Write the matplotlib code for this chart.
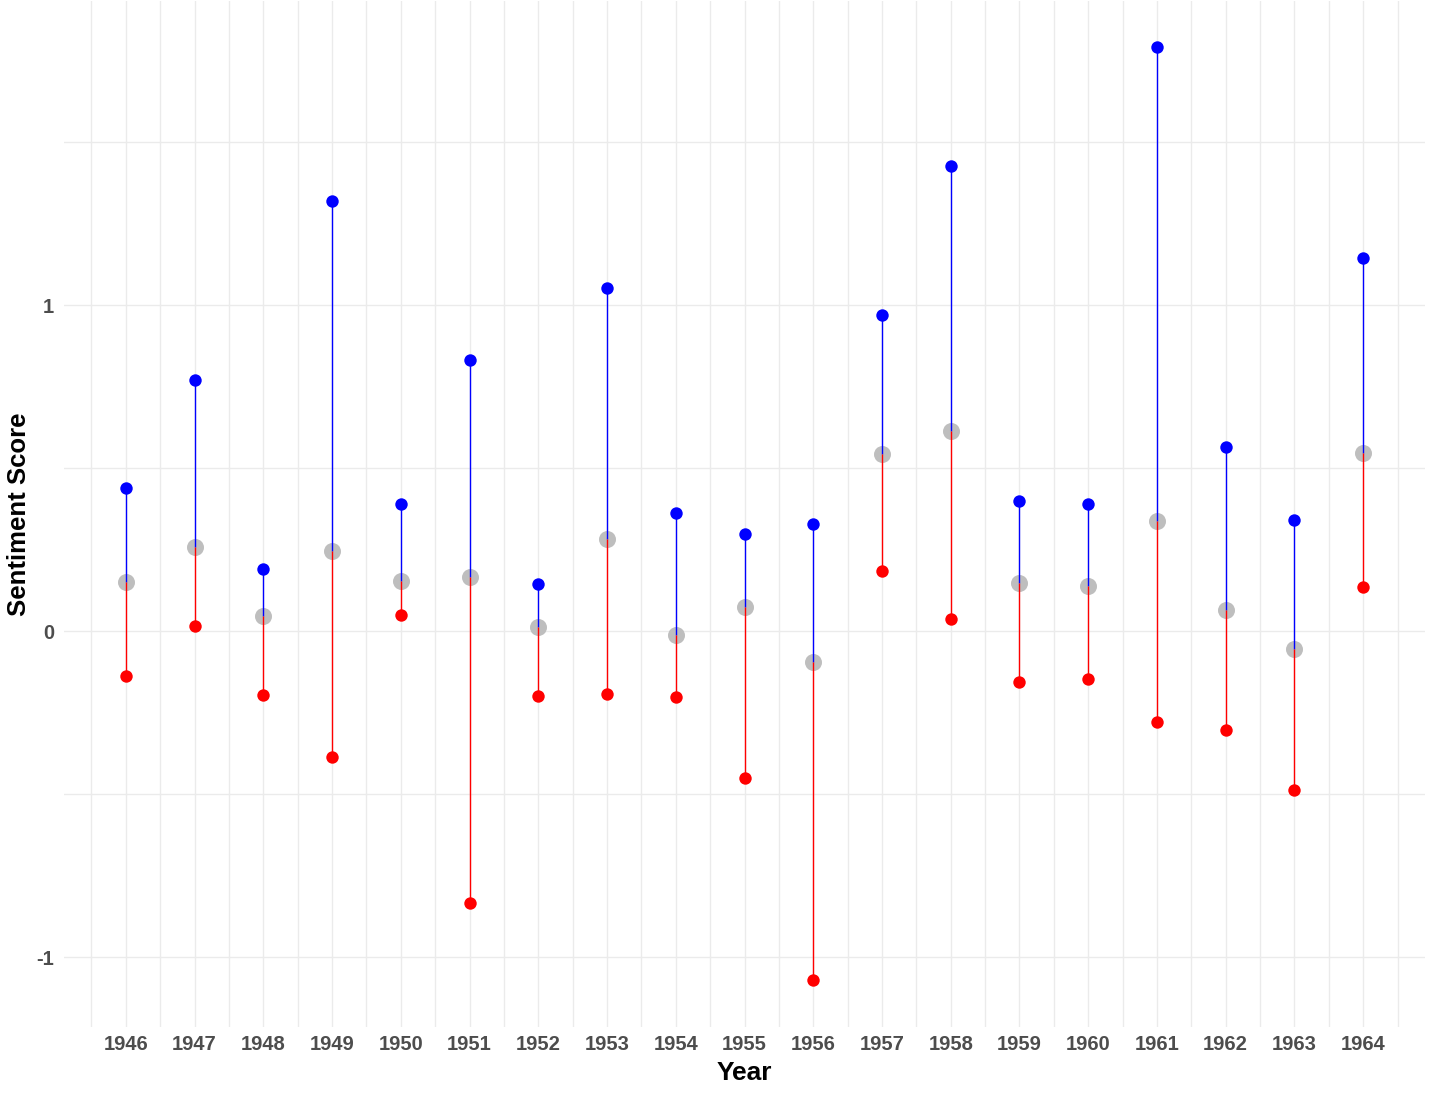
import numpy as np
import matplotlib.pyplot as plt
from matplotlib.ticker import MultipleLocator

# sentiment summary per year
years = np.arange(1946, 1965)
max_score = [0.439, 0.770, 0.190, 1.319, 0.390, 0.831, 0.144, 1.052, 0.362, 0.298,
             0.328, 0.969, 1.426, 0.399, 0.390, 1.791, 0.564, 0.340, 1.144]
mean_score = [0.150, 0.258, 0.046, 0.245, 0.153, 0.166, 0.012, 0.282, -0.012, 0.074,
              -0.095, 0.543, 0.613, 0.147, 0.138, 0.337, 0.064, -0.055, 0.546]
min_score = [-0.138, 0.015, -0.196, -0.387, 0.049, -0.834, -0.199, -0.193, -0.202, -0.451,
             -1.071, 0.184, 0.037, -0.156, -0.147, -0.279, -0.304, -0.488, 0.135]

plt.rcParams['font.family'] = ['Liberation Sans', 'DejaVu Sans']

fig = plt.figure(figsize=(14.34, 10.93), dpi=100)
ax = fig.add_axes([64 / 1434, 66 / 1093, 1361 / 1434, 1026.5 / 1093])

# gray mean points underneath
ax.scatter(years, mean_score, s=150, color='#BEBEBE', zorder=2, linewidths=0)
# segments: blue from mean up to max, red from mean down to min
ax.vlines(years, mean_score, max_score, color='blue', lw=1.0, zorder=3)
ax.vlines(years, min_score, mean_score, color='red', lw=1.0, zorder=3)
ax.scatter(years, max_score, s=80, color='blue', zorder=4, linewidths=0)
ax.scatter(years, min_score, s=80, color='red', zorder=4, linewidths=0)

# ggplot-like 5% expansion
lo, hi = min(min_score), max(max_score)
pad = 0.05 * (hi - lo)
ax.set_ylim(lo - pad, hi + pad)
xpad = 0.05 * (years[-1] - years[0])
ax.set_xlim(years[0] - xpad, years[-1] + xpad)

ax.set_xticks(years)
ax.set_xticklabels([str(y) for y in years])
ax.xaxis.set_minor_locator(MultipleLocator(0.5))
ax.set_yticks([-1, 0, 1])
ax.set_yticklabels(['-1', '0', '1'])
ax.yaxis.set_minor_locator(MultipleLocator(0.5))

ax.grid(True, which='both', color='#EBEBEB', lw=1.0, zorder=0)
ax.set_axisbelow(True)
for s in ax.spines.values():
    s.set_visible(False)
ax.tick_params(which='both', length=0)
ax.tick_params(axis='x', pad=6, labelsize=14.5, labelcolor='#4D4D4D')
ax.tick_params(axis='y', pad=7, labelsize=14.5, labelcolor='#4D4D4D')
for lab in ax.get_xticklabels() + ax.get_yticklabels():
    lab.set_fontweight('bold')

ax.set_xlabel('Year', fontsize=19, fontweight='bold', labelpad=5)
ax.set_ylabel('Sentiment Score', fontsize=18.5, fontweight='bold', labelpad=4)

fig.savefig('out.png', dpi=100)
